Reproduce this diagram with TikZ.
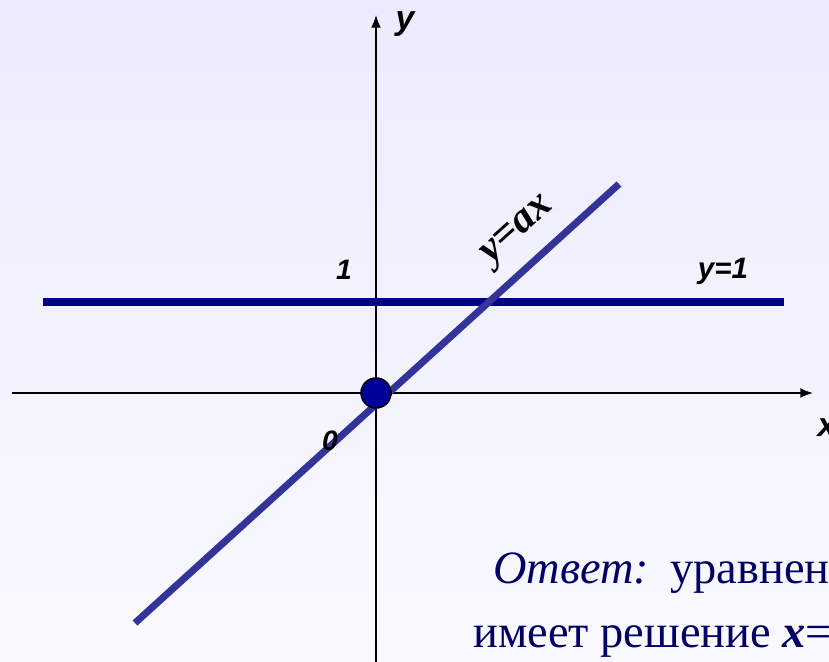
\documentclass[tikz,border=0pt]{standalone}
\usepackage{fontspec}
\setmainfont{Liberation Serif}
\setsansfont{Liberation Sans}
\usetikzlibrary{arrows.meta,positioning}
\definecolor{bgtop}{HTML}{EBEBFF}
\definecolor{bgbot}{HTML}{F9F9FF}
\definecolor{lineone}{HTML}{000088}
\definecolor{lineax}{HTML}{333399}
\definecolor{dotfill}{HTML}{000099}
\definecolor{answer}{HTML}{000066}

\begin{document}
\begin{tikzpicture}[x=0.025cm, y=-0.025cm,
  axis/.style={line width=1.1pt, black, -{Latex[length=9pt, width=7pt]}},
  graph/.style={line width=5pt},
  axlbl/.style={font=\sffamily\bfseries\itshape\fontsize{24}{26}\selectfont, inner sep=0pt},
  numlbl/.style={font=\sffamily\bfseries\itshape\fontsize{20}{22}\selectfont, inner sep=0pt},
  ans/.style={font=\fontsize{33}{38}\selectfont, text=answer, inner sep=0pt, anchor=base west}
]
  \useasboundingbox (0,0) rectangle (829,662);
  \shade[top color=bgtop, bottom color=bgbot] (0,0) rectangle (829,662);

  % axes
  \coordinate (xs) at (12,393);
  \coordinate (xe) at (813,393);
  \coordinate (ys) at (376,662);
  \coordinate (ye) at (376,15);
  \draw[axis] (xs) -- (xe);
  \draw[axis] (ys) -- (ye);
  \node[axlbl] (ylbl) at (405,24) {y};
  \node[axlbl] (xlbl) at (827,428) {x};

  % y=1
  \coordinate (h1) at (43,302);
  \coordinate (h2) at (784,302);
  \draw[graph, lineone] (h1) -- (h2);
  \node[numlbl] (one) at (344,270) {1};
  \node[font=\sffamily\bfseries\itshape\fontsize{21}{23}\selectfont, inner sep=0pt] (lone) at (723,271) {y=1};

  % y=ax
  \coordinate (a1) at (135,623);
  \coordinate (a2) at (619,184);
  \draw[graph, lineax] (a1) -- (a2);
  \node[font=\bfseries\itshape\fontsize{30}{32}\selectfont, inner sep=0pt, rotate=42] (lax) at (519,232) {y=ax};

  % origin
  \node[circle, draw=black, line width=1.1pt, fill=dotfill, inner sep=0pt, minimum size=0.75cm] (orig) at (376,393) {};
  \node[numlbl] (zero) at (330,441) {0};

  % answer
  \node[ans] (otv) at (493,583) {\textit{Ответ:}};
  \node[ans] (otv2) at (670,583) {уравнен};
  \node[ans] (otv3) at (473,647) {имеет решение \textbf{\textit{x}}=};
\end{tikzpicture}
\end{document}
